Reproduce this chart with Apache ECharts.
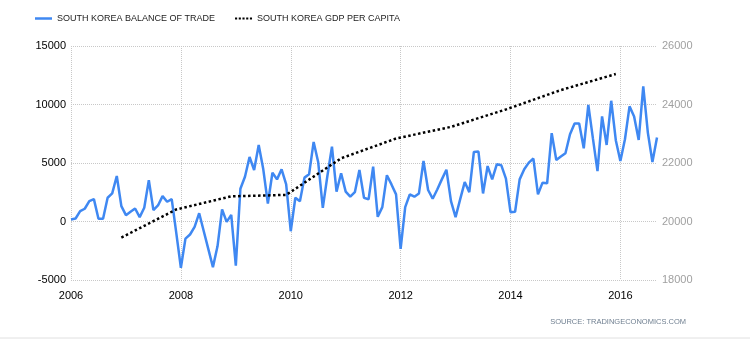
<!DOCTYPE html>
<html>
<head>
<meta charset="utf-8">
<script src="https://cdn.jsdelivr.net/npm/echarts@6/dist/echarts.min.js"></script>
<style>
html,body{margin:0;padding:0;background:#fff;}
#c{width:750px;height:339px;}
</style>
</head>
<body>
<div id="c"></div>
<script>
// Monthly categories Jan 2006 .. Sep 2016
const months = [];
for (let y = 2006; y <= 2016; y++) {
  for (let m = 1; m <= 12; m++) {
    if (y === 2016 && m > 9) break;
    months.push(y + '-' + (m < 10 ? '0' + m : m));
  }
}
const yearTicks = ['2006','2008','2010','2012','2014','2016'];

// South Korea balance of trade (USD million), monthly
const tradeValues = [
  170, 260, 880, 1090, 1740, 1910, 230, 230, 2030, 2400, 3890, 1310,
  540, 830, 1110, 370, 1170, 3540, 970, 1370, 2170, 1690, 1910, -1000,
  -3950, -1460, -1110, -460, 710, -830, -2360, -3900, -2120, 1030, -30, 570,
  -3770, 2800, 3830, 5510, 4400, 6540, 4460, 1540, 4170, 3600, 4460, 3170,
  -830, 2030, 1740, 3750, 4030, 6800, 5060, 1170, 3890, 6400, 2550, 4120,
  2550, 2120, 2510, 4400, 2030, 1890, 4690, 400, 1230, 3950, 3170, 2320,
  -2340, 1230, 2320, 2120, 2400, 5170, 2690, 1950, 2740, 3600, 4430, 1740,
  370, 1890, 3370, 2510, 5940, 5980, 2400, 4740, 3600, 4890, 4800, 3660,
  800, 830, 3600, 4460, 5030, 5380, 2320, 3320, 3260, 7550, 5260, 5550,
  5830, 7460, 8380, 8380, 6260, 9970, 7100, 4310, 8980, 6540, 10320, 6950,
  5170, 7030, 9840, 8980, 6970, 11550, 7600, 5090, 7180
];

// South Korea GDP per capita (USD), annual, placed at December of each year
const gdpMonths = ['2006-12','2007-12','2008-12','2009-12','2010-12','2011-12','2012-12','2013-12','2014-12','2015-12'];
const gdpValues = [19451, 20412, 20860, 20909, 22161, 22837, 23235, 23831, 24493, 25042];

const gdpSeries = months.map(m => {
  const k = gdpMonths.indexOf(m);
  return k >= 0 ? gdpValues[k] : null;
});

const chart = echarts.init(document.getElementById('c'), null, {renderer: 'canvas'});
const isYearTick = (idx, val) => val.slice(5) === '01' && yearTicks.indexOf(val.slice(0,4)) >= 0;
const FONT = 'Liberation Sans, Arial, sans-serif';

chart.setOption({
  animation: false,
  backgroundColor: '#fff',
  textStyle: {fontFamily: FONT},
  legend: {
    left: 30, top: 9,
    itemWidth: 17, itemHeight: 2.5, itemGap: 20,
    textStyle: {fontSize: 9, color: '#222', fontFamily: FONT},
    data: [
      {name: 'SOUTH KOREA BALANCE OF TRADE', icon: 'rect', itemStyle: {color: '#3f88f2'}},
      {name: 'SOUTH KOREA GDP PER CAPITA',
       icon: 'path://M0,0h2v2h-2z M3.5,0h2v2h-2z M7,0h2v2h-2z M10.5,0h2v2h-2z M14,0h2v2h-2z',
       itemStyle: {color: '#000'}}
    ]
  },
  grid: {left: 71, right: 93, top: 46, bottom: 59, containLabel: false},
  xAxis: {
    type: 'category',
    data: months,
    boundaryGap: false,
    axisLine: {show: false},
    axisTick: {show: false},
    axisLabel: {
      interval: isYearTick,
      formatter: v => v.slice(0,4),
      color: '#000', fontSize: 11, margin: 10
    },
    splitLine: {show: true, interval: isYearTick, lineStyle: {color: '#c8c8c8', type: 'dotted', width: 1}}
  },
  yAxis: [
    {
      type: 'value', min: -5000, max: 15000, interval: 5000,
      axisLine: {show: false}, axisTick: {show: false},
      axisLabel: {color: '#000', fontSize: 11, margin: 5, formatter: v => String(v)},
      splitLine: {lineStyle: {color: '#c8c8c8', type: 'dotted', width: 1}}
    },
    {
      type: 'value', min: 18000, max: 26000, interval: 2000,
      axisLine: {show: false}, axisTick: {show: false},
      axisLabel: {color: '#a0a0a0', fontSize: 11, margin: 5, formatter: v => String(v)},
      splitLine: {show: false}
    }
  ],
  series: [
    {
      name: 'SOUTH KOREA BALANCE OF TRADE',
      type: 'line', yAxisIndex: 0,
      data: tradeValues,
      showSymbol: false, symbol: 'none',
      lineStyle: {color: '#3f88f2', width: 2.5},
      itemStyle: {color: '#3f88f2'},
      z: 2
    },
    {
      name: 'SOUTH KOREA GDP PER CAPITA',
      type: 'line', yAxisIndex: 1,
      data: gdpSeries,
      connectNulls: true,
      showSymbol: false, symbol: 'none',
      lineStyle: {color: '#000', width: 2.5, type: [2.5, 2.5]},
      itemStyle: {color: '#000'},
      z: 3
    }
  ],
  graphic: [
    {
      type: 'text', right: 64, top: 318,
      style: {text: 'SOURCE: TRADINGECONOMICS.COM', fill: '#6f7f90', fontSize: 7.5, fontFamily: FONT}
    },
    {
      type: 'line', shape: {x1: 0, y1: 338, x2: 750, y2: 338},
      style: {stroke: '#e0e0e0', lineWidth: 1}
    }
  ]
});
</script>
</body>
</html>
